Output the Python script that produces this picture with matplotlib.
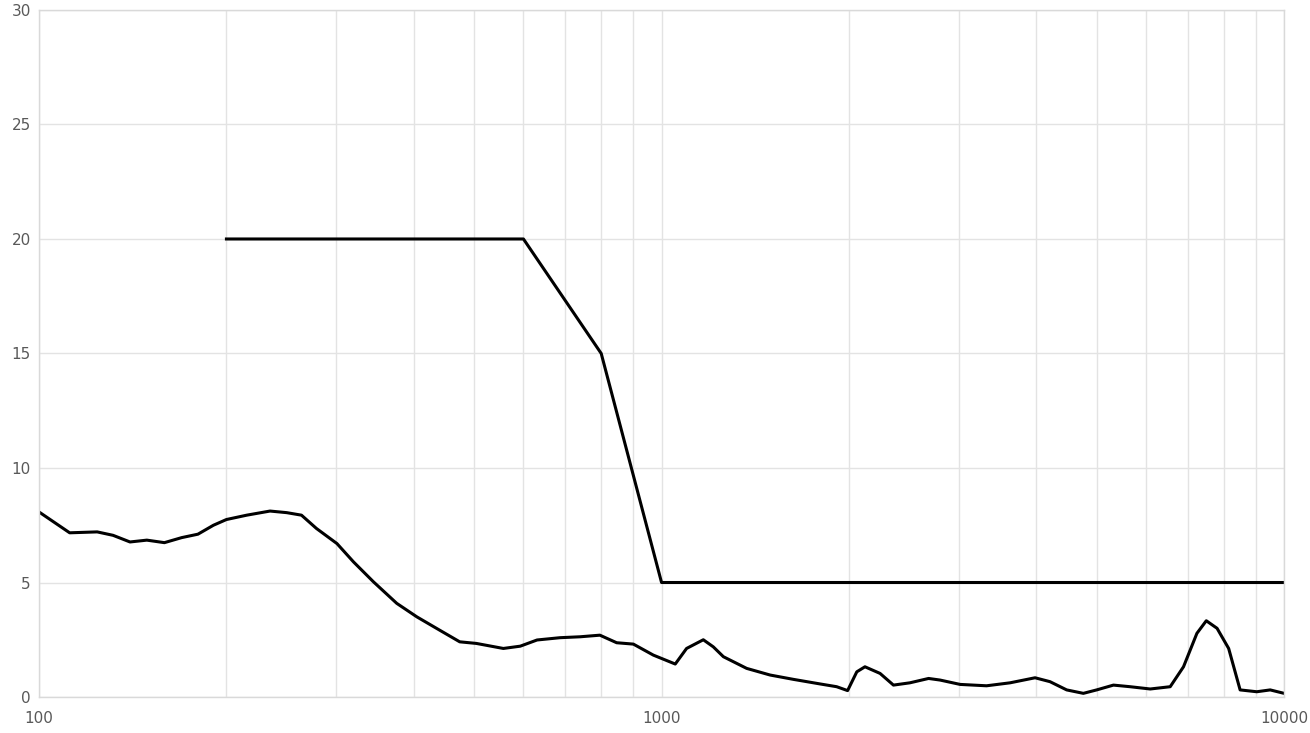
import matplotlib
matplotlib.use("Agg")
import matplotlib.pyplot as plt
from matplotlib.ticker import FixedLocator, NullFormatter, NullLocator

# Limit line (frequency, level)
limit_freq = [200, 600, 800, 1000, 10000]
limit_level = [20, 20, 15, 5, 5]

# Measured curve (frequency, level)
meas_freq = [100, 112, 124, 131.5, 140, 149, 159, 169.5, 180, 190.6, 200, 215.6,
             235, 250, 264, 279, 301, 320, 344.5, 375.5, 404.5, 440, 474, 504,
             557, 593, 631, 687, 740, 796, 847, 901, 970, 1052, 1097, 1167, 1211,
             1257, 1370, 1494, 1629, 1798, 1911, 1990, 2059, 2122, 2244, 2358,
             2506, 2685, 2802, 3017, 3327, 3630, 3981, 4207, 4475, 4760, 5000,
             5320, 5657, 6095, 6563, 6894, 7244, 7500, 7805, 8147, 8500, 9040,
             9500, 10000]
meas_level = [8.08, 7.17, 7.21, 7.06, 6.77, 6.85, 6.74, 6.96, 7.11, 7.5, 7.75, 7.94,
              8.12, 8.05, 7.94, 7.36, 6.70, 5.90, 5.03, 4.09, 3.50, 2.92, 2.41, 2.34,
              2.12, 2.22, 2.49, 2.59, 2.63, 2.70, 2.37, 2.31, 1.83, 1.44, 2.12, 2.50,
              2.19, 1.76, 1.25, 0.96, 0.77, 0.57, 0.45, 0.28, 1.10, 1.32, 1.03, 0.52,
              0.62, 0.81, 0.74, 0.55, 0.49, 0.62, 0.84, 0.67, 0.31, 0.16, 0.31,
              0.52, 0.45, 0.35, 0.45, 1.32, 2.78, 3.33, 3.0, 2.12, 0.31, 0.23,
              0.31, 0.16]

x_ticks = [100, 1000, 10000]
x_tick_labels = ["100", "1000", "10000"]
y_ticks = [0, 5, 10, 15, 20, 25, 30]

grid_color = "#e3e3e3"
text_color = "#595959"

fig = plt.figure(figsize=(13.1, 7.33), dpi=100)
ax = fig.add_axes([0.0298, 0.0491, 0.9504, 0.9373])

ax.plot(limit_freq, limit_level, color="black", linewidth=2.2, solid_joinstyle="round")
ax.plot(meas_freq, meas_level, color="black", linewidth=2.2,
        solid_joinstyle="round", solid_capstyle="round")

ax.set_xscale("log")
ax.set_xlim(100, 10000)
ax.set_ylim(0, 30)

ax.xaxis.set_major_locator(FixedLocator(x_ticks))
ax.set_xticklabels(x_tick_labels)
minor = [m * d for d in (100, 1000) for m in range(2, 10)]
ax.xaxis.set_minor_locator(FixedLocator(minor))
ax.xaxis.set_minor_formatter(NullFormatter())
ax.set_yticks(y_ticks)
ax.yaxis.set_minor_locator(NullLocator())

ax.grid(True, which="both", axis="x", color=grid_color, linewidth=1)
ax.grid(True, which="major", axis="y", color=grid_color, linewidth=1)
ax.set_axisbelow(True)

for side in ["left", "bottom", "top", "right"]:
    ax.spines[side].set_color("#d9d9d9")
    ax.spines[side].set_linewidth(1)

ax.tick_params(which="both", length=0, colors=text_color, labelsize=11)
ax.tick_params(axis="x", pad=10)
ax.tick_params(axis="y", pad=6)

fig.savefig("out.png", dpi=100)
